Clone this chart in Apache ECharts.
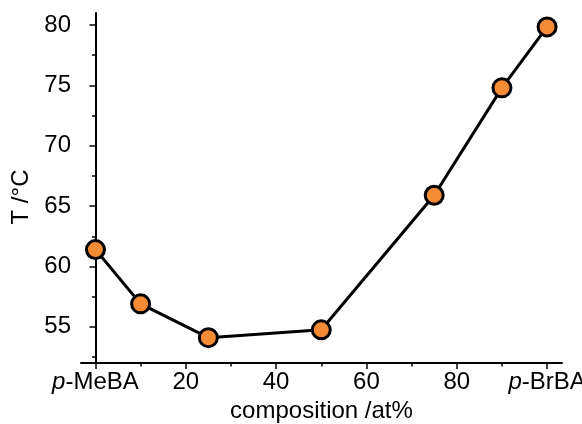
<!DOCTYPE html>
<html>
<head>
<meta charset="utf-8">
<script src="https://cdn.jsdelivr.net/npm/echarts@6/dist/echarts.min.js"></script>
<style>
  html, body { margin: 0; padding: 0; background: #fff; }
  #chart { width: 582px; height: 424px; }
</style>
</head>
<body>
<div id="chart"></div>
<script>
  // composition (at% p-BrBA) and transition temperature
  const compositions = [0, 10, 25, 50, 75, 90, 100];
  const temps = [61.4, 56.9, 54.1, 54.75, 65.9, 74.8, 79.85];

  const xMajor = [0, 20, 40, 60, 80, 100];
  const xMinor = [10, 30, 50, 70, 90];
  const yMajor = [55, 60, 65, 70, 75, 80];
  const yMinor = [52.5, 57.5, 62.5, 67.5, 72.5, 77.5];

  const font = '"Liberation Sans", Arial, Helvetica, sans-serif';
  const axisLine = { show: true, lineStyle: { color: '#000', width: 2 } };

  let mychart = echarts.init(document.getElementById('chart'));
  let option = {
    animation: false,
    grid: { left: 81, right: 20, top: 13, bottom: 61, outerBoundsMode: 'none' },
    xAxis: [{
      type: 'value',
      min: -3.2,
      max: 103.3,
      name: 'composition /at%',
      nameLocation: 'middle',
      nameGap: 36,
      nameTextStyle: { color: '#000', fontSize: 24, fontFamily: font },
      axisLine: axisLine,
      splitLine: { show: false },
      axisTick: { customValues: xMajor, length: 6, lineStyle: { color: '#000', width: 1.5 } },
      axisLabel: {
        customValues: xMajor,
        margin: 7,
        color: '#000',
        fontSize: 24,
        fontFamily: font,
        formatter: function (v) {
          if (v === 0) return '{i|p}-MeBA';
          if (v === 100) return '{i|p}-BrBA';
          return String(v);
        },
        rich: { i: { fontStyle: 'italic', fontSize: 24, fontFamily: font, color: '#000' } }
      }
    }, {
      type: 'value',
      position: 'bottom',
      min: -3.2,
      max: 103.3,
      axisLine: { show: false },
      splitLine: { show: false },
      axisLabel: { show: false },
      axisTick: { customValues: xMinor, length: 3.5, lineStyle: { color: '#000', width: 1.5 } }
    }],
    yAxis: [{
      type: 'value',
      min: 52,
      max: 81,
      name: 'T /°C',
      nameLocation: 'middle',
      nameGap: 47,
      nameTextStyle: { color: '#000', fontSize: 24, fontFamily: font, padding: [0, 18, 0, 0] },
      axisLine: axisLine,
      splitLine: { show: false },
      axisTick: { customValues: yMajor, length: 6, lineStyle: { color: '#000', width: 1.5 } },
      axisLabel: { customValues: yMajor, margin: 10, color: '#000', fontSize: 24, fontFamily: font }
    }, {
      type: 'value',
      position: 'left',
      min: 52,
      max: 81,
      axisLine: { show: false },
      splitLine: { show: false },
      axisLabel: { show: false },
      axisTick: { customValues: yMinor, length: 3.5, lineStyle: { color: '#000', width: 1.5 } }
    }],
    series: [{
      type: 'line',
      data: compositions.map((c, i) => [c, temps[i]]),
      symbol: 'circle',
      symbolSize: 18,
      lineStyle: { color: '#000', width: 3 },
      itemStyle: { color: '#F58B34', borderColor: '#000', borderWidth: 3 }
    }]
  };
  mychart.setOption(option);
</script>
</body>
</html>
